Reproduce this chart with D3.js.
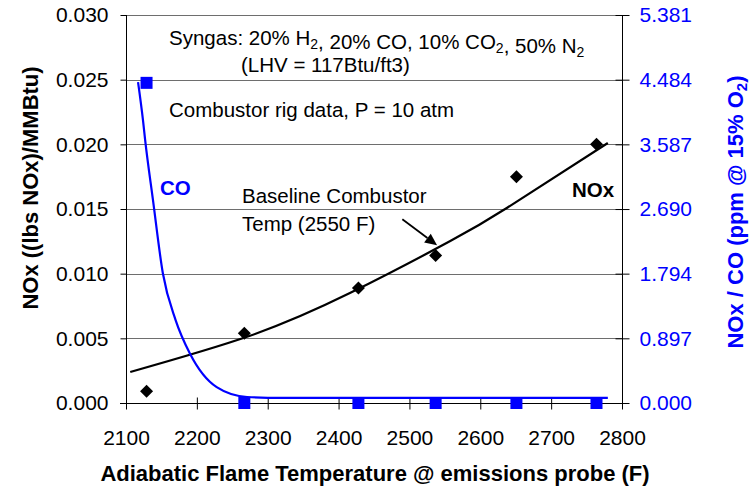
<!DOCTYPE html>
<html>
<head>
<meta charset="utf-8">
<script src="https://cdn.jsdelivr.net/npm/d3@7"></script>
<style>
  body { margin: 0; background: #fff; }
  text { font-family: "Liberation Sans", Arial, sans-serif; }
</style>
</head>
<body>
<div id="chart"></div>
<script>
// measured points (temperature in F)
let tempF = [2129, 2267, 2428, 2537, 2651, 2764];
let noxLb = [0.0009, 0.0054, 0.0089, 0.0114, 0.0175, 0.0200];
let coPpm = [4.44, 0, 0, 0, 0, 0];

// trend lines
let noxFitT = [2106, 2275, 2416, 2557, 2638, 2780];
let noxFitV = [0.0024, 0.0052, 0.0085, 0.0125, 0.0151, 0.0201];
let coFitT = [2117, 2124, 2127, 2138, 2152, 2170, 2190, 2228, 2271, 2320, 2400, 2600, 2780];
let coFitV = [4.45, 3.92, 3.65, 2.82, 1.80, 1.15, 0.69, 0.22, 0.083, 0.07, 0.07, 0.07, 0.07];

let xTicks = [2100, 2200, 2300, 2400, 2500, 2600, 2700, 2800];
let leftTicks = [0, 0.005, 0.010, 0.015, 0.020, 0.025, 0.030];
let rightTicks = [0, 0.897, 1.794, 2.690, 3.587, 4.484, 5.381];

let W = 752, H = 491;
let plot = {left: 126, right: 622, top: 15, bottom: 403};

let svg = d3.select("#chart").append("svg")
  .attr("width", W)
  .attr("height", H);

svg.append("rect").attr("width", W).attr("height", H).attr("fill", "#fff");

let x = d3.scaleLinear().domain([2100, 2800]).range([plot.left, plot.right]);
let yL = d3.scaleLinear().domain([0, 0.030]).range([plot.bottom, plot.top]);
let yR = d3.scaleLinear().domain([0, 5.381]).range([plot.bottom, plot.top]);

// gridlines
svg.append("g")
  .selectAll("line")
  .data(leftTicks)
  .enter().append("line")
    .attr("x1", plot.left)
    .attr("x2", plot.right)
    .attr("y1", d => Math.round(yL(d)) + 0.5)
    .attr("y2", d => Math.round(yL(d)) + 0.5)
    .attr("stroke", "#6e6e6e")
    .attr("stroke-width", 1);

// axes
let axL = svg.append("g")
  .attr("transform", "translate(" + (plot.left + 0.5) + ",0)")
  .call(d3.axisLeft(yL).tickValues(leftTicks).tickSize(6).tickPadding(12).tickFormat(d3.format(".3f")));

let axR = svg.append("g")
  .attr("transform", "translate(" + (plot.right + 0.5) + ",0)")
  .call(d3.axisRight(yR).tickValues(rightTicks).tickSize(7).tickPadding(10).tickFormat(d3.format(".3f")));
axR.selectAll(".tick").append("line").attr("x2", -7).attr("stroke", "#000");

let axB = svg.append("g")
  .attr("transform", "translate(0," + (plot.bottom + 0.5) + ")")
  .call(d3.axisBottom(x).tickValues(xTicks).tickSize(6).tickPadding(21).tickFormat(d3.format("d")));
axB.selectAll(".tick").append("line").attr("y2", -6).attr("stroke", "#000");

[axL, axR, axB].forEach(a => {
  a.select(".domain").attr("stroke", "#000");
  a.selectAll("line").attr("stroke", "#000");
  a.selectAll("text")
    .style("font-size", "21px")
    .style("font-family", "'Liberation Sans', Arial, sans-serif");
});
axL.selectAll("text").attr("fill", "#000");
axB.selectAll("text").attr("fill", "#000");
axR.selectAll("text").attr("fill", "#0000ff");
// drop the end caps of the domain paths
axL.select(".domain").attr("d", "M0," + plot.top + "V" + (plot.bottom + 6));
axR.select(".domain").attr("d", "M0," + plot.top + "V" + (plot.bottom + 6));
axB.select(".domain").attr("d", "M" + (plot.left - 6) + ",0H" + (plot.right + 7));

// trend lines
let noxLine = d3.line()
  .x((d, i) => x(noxFitT[i]))
  .y(d => yL(d))
  .curve(d3.curveNatural);
svg.append("path")
  .attr("d", noxLine(noxFitV))
  .attr("fill", "none")
  .attr("stroke", "#000")
  .attr("stroke-width", 2.2);

let coLine = d3.line()
  .x((d, i) => x(coFitT[i]))
  .y(d => yR(d))
  .curve(d3.curveMonotoneX);
svg.append("path")
  .attr("d", coLine(coFitV))
  .attr("fill", "none")
  .attr("stroke", "#0000ff")
  .attr("stroke-width", 2.2);

// markers
svg.append("g")
  .selectAll("path")
  .data(tempF)
  .enter().append("path")
    .attr("transform", (d, i) => "translate(" + x(d) + "," + yL(noxLb[i]) + ")")
    .attr("d", "M0,-6.5L6.5,0L0,6.5L-6.5,0Z")
    .attr("fill", "#000");

svg.append("g")
  .selectAll("rect")
  .data(tempF)
  .enter().append("rect")
    .attr("x", d => x(d) - 6)
    .attr("y", (d, i) => yR(coPpm[i]) - 6)
    .attr("width", 12)
    .attr("height", 12)
    .attr("fill", "#0000ff");

// axis titles
svg.append("text")
  .attr("x", (plot.left + plot.right) / 2 + 1)
  .attr("y", 481)
  .attr("text-anchor", "middle")
  .style("font-size", "22px")
  .style("font-weight", "bold")
  .text("Adiabatic Flame Temperature @ emissions probe (F)");

svg.append("text")
  .attr("transform", "translate(38,188) rotate(-90)")
  .attr("text-anchor", "middle")
  .style("font-size", "22px")
  .style("font-weight", "bold")
  .text("NOx ((lbs NOx)/MMBtu)");

let rt = svg.append("text")
  .attr("transform", "translate(743,212) rotate(-90)")
  .attr("text-anchor", "middle")
  .attr("fill", "#0000ff")
  .style("font-size", "22px")
  .style("font-weight", "bold");
rt.append("tspan").text("NOx / CO (ppm @ 15% O");
rt.append("tspan").attr("dy", 4).style("font-size", "15px").text("2");
rt.append("tspan").attr("dy", -4).text(")");

// annotations; array entries are plain text, nested arrays are subscripts
function withSubs(t, parts) {
  parts.forEach(p => {
    if (Array.isArray(p)) {
      t.append("tspan").attr("dy", 4).style("font-size", "14px").text(p[0]);
      t.append("tspan").attr("dy", -4).text("");
    } else {
      t.append("tspan").text(p);
    }
  });
}
let syn = svg.append("text").attr("x", 169).attr("y", 45).style("font-size", "20.5px");
withSubs(syn, ["Syngas: 20% H", ["2"], ", 20% CO, 10% CO", ["2"], ", 50% N", ["2"]]);

svg.append("text").attr("x", 241).attr("y", 72).style("font-size", "20.5px")
  .text("(LHV = 117Btu/ft3)");
svg.append("text").attr("x", 169).attr("y", 117).style("font-size", "20.5px")
  .text("Combustor rig data, P = 10 atm");

svg.append("text").attr("x", 242).attr("y", 203).style("font-size", "20.5px")
  .text("Baseline Combustor");
svg.append("text").attr("x", 242).attr("y", 231).style("font-size", "20.5px")
  .text("Temp (2550 F)");

svg.append("text").attr("x", 160).attr("y", 195)
  .attr("fill", "#0000ff")
  .style("font-size", "20.5px").style("font-weight", "bold")
  .text("CO");
svg.append("text").attr("x", 572).attr("y", 197)
  .style("font-size", "20.5px").style("font-weight", "bold")
  .text("NOx");

// arrow to the baseline point
let a0 = [x(2490), yL(0.0142)], a1 = [x(2539), yL(0.0122)];
let ang = Math.atan2(a1[1] - a0[1], a1[0] - a0[0]);
let hl = 12, hw = 5.5;
let base = [a1[0] - hl * Math.cos(ang), a1[1] - hl * Math.sin(ang)];
svg.append("line")
  .attr("x1", a0[0]).attr("y1", a0[1])
  .attr("x2", base[0]).attr("y2", base[1])
  .attr("stroke", "#000").attr("stroke-width", 1.8);
svg.append("path")
  .attr("d", "M" + a1 + "L" + [base[0] + hw * Math.sin(ang), base[1] - hw * Math.cos(ang)] +
    "L" + [base[0] - hw * Math.sin(ang), base[1] + hw * Math.cos(ang)] + "Z")
  .attr("fill", "#000");
</script>
</body>
</html>
